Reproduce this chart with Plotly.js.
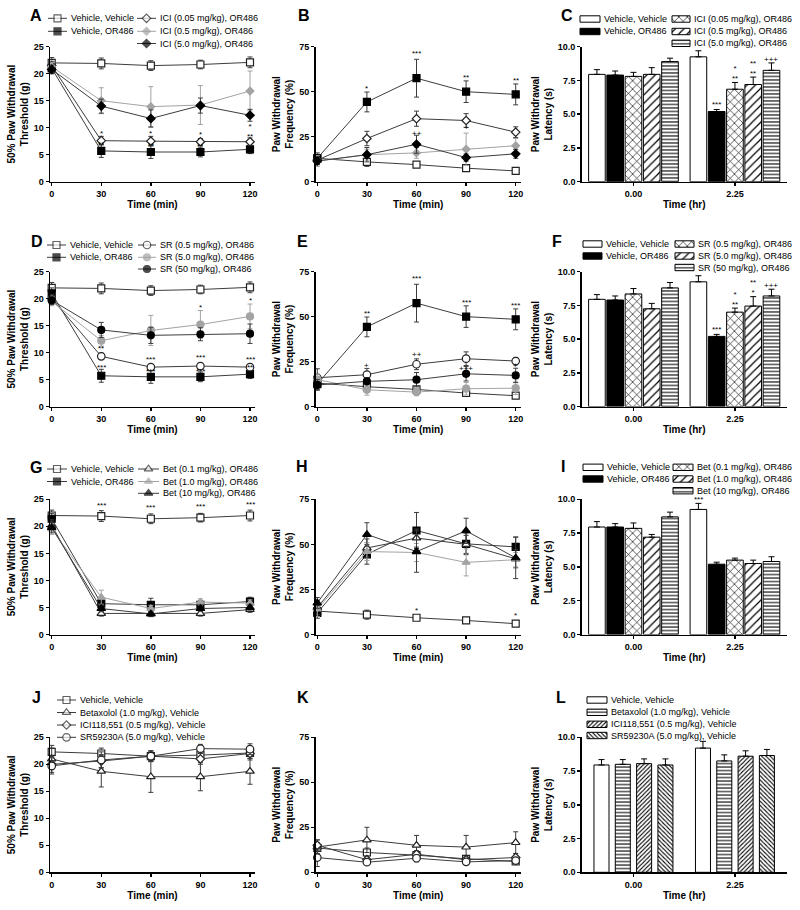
<!DOCTYPE html>
<html><head><meta charset="utf-8">
<script src="https://cdn.plot.ly/plotly-3.0.1.min.js"></script>
<style>html,body{margin:0;padding:0;background:#fff}#chart{width:800px;height:910px}</style>
</head><body><div id="chart"></div>
<script>
// ---------------- DATA ----------------
const timeMin = [0, 30, 60, 90, 120];
const timeHr = ['0.00', '2.25'];

// Panel A / B / C : ICI118,551
const ICI_labels = ['Vehicle, Vehicle', 'Vehicle, OR486', 'ICI (0.05 mg/kg), OR486', 'ICI (0.5 mg/kg), OR486', 'ICI (5.0 mg/kg), OR486'];
const A_mean = [[22.0, 21.9, 21.5, 21.7, 22.1], [21.0, 5.7, 5.5, 5.5, 6.0], [21.5, 7.6, 7.5, 7.4, 7.4], [21.3, 15.0, 13.9, 14.2, 16.8], [20.8, 14.0, 11.7, 14.1, 12.3]];
const A_sem = [[1.0, 1.0, 0.9, 0.8, 1.0], [1.0, 1.2, 1.2, 0.9, 0.8], [0.8, 0.8, 0.9, 0.6, 0.7], [0.8, 2.4, 3.7, 3.6, 3.7], [0.8, 1.3, 1.6, 1.4, 1.1]];
const A_sig = [[30, 9.0, '*'], [30, 6.8, '**'], [60, 8.9, '*'], [60, 6.7, '**'], [90, 8.8, '*'], [90, 6.6, '**'], [120, 9.3, '*<br>**']];
const B_mean = [[13, 11, 9.5, 7.5, 6], [13, 44.3, 57.5, 50, 48.5], [12, 24, 35, 34, 27.5], [11.5, 15, 16, 18, 20], [11.5, 15, 20.8, 13.4, 15.5]];
const B_sem = [[2, 2.5, 1, 1, 0.8], [3, 5.5, 10.5, 6, 5.8], [2.5, 4, 4.2, 3.8, 3], [3, 3, 3, 9, 4], [2, 4, 5, 2, 2.5]];
const B_sig = [[30, 52, '*'], [60, 71, '***'], [90, 58, '**'], [120, 56, '**'], [60, 27, '++'], [90, 30, '+']];
const C_mean = [[7.95, 9.25], [7.9, 5.2], [7.8, 6.85], [7.95, 7.2], [8.9, 8.25]];
const C_sem = [[0.35, 0.45], [0.3, 0.15], [0.3, 0.5], [0.5, 0.55], [0.25, 0.55]];
const C_sig = [[1, 1, 5.7, '***'], [1, 2, 8.0, '*<br>**'], [1, 3, 8.4, '**<br>**'], [1, 4, 9.05, '+++']];

// Panel D / E / F : SR59230A
const SR_labels = ['Vehicle, Vehicle', 'Vehicle, OR486', 'SR (0.5 mg/kg), OR486', 'SR (5.0 mg/kg), OR486', 'SR (50 mg/kg), OR486'];
const D_mean = [[22.0, 21.9, 21.5, 21.7, 22.1], [21.0, 5.7, 5.5, 5.5, 6.0], [20.0, 9.3, 7.3, 7.5, 7.3], [19.5, 12.2, 14.1, 15.2, 16.7], [19.7, 14.2, 13.2, 13.4, 13.5]];
const D_sem = [[1.0, 1.0, 0.9, 0.8, 1.0], [1.0, 1.2, 1.2, 0.9, 0.8], [0.8, 0.6, 0.5, 0.5, 0.5], [0.8, 1.0, 2.8, 2.6, 2.3], [0.8, 1.4, 1.5, 1.2, 1.8]];
const D_sig = [[30, 10.7, '**'], [30, 7.3, '***'], [60, 8.8, '***'], [60, 6.5, '***'], [90, 9.0, '***'], [90, 6.5, '***'], [120, 8.8, '***'], [120, 7.3, '**'], [90, 18.4, '*'], [120, 19.6, '*']];
const E_mean = [[13, 11, 9.5, 7.5, 6], [12.5, 44.3, 57.5, 50, 48.5], [16, 17.7, 23.5, 26.6, 25.3], [15, 9.3, 8, 9.9, 10.2], [12, 14, 14.9, 18.2, 17.3]];
const E_sem = [[2, 2.5, 1, 1, 0.8], [3, 5.5, 10.5, 6, 5.8], [5, 3.5, 3, 3.8, 2], [3, 3, 2, 3.5, 3.5], [3, 2, 4, 4, 4]];
const E_sig = [[30, 52, '**'], [60, 71, '***'], [90, 58, '***'], [120, 56, '***'], [30, 23, '+'], [60, 29, '++'], [90, 21, '+++'], [120, 23, '+']];
const F_mean = [[7.95, 9.25], [7.9, 5.2], [8.35, 7.0], [7.25, 7.45], [8.8, 8.2]];
const F_sem = [[0.35, 0.45], [0.3, 0.15], [0.4, 0.3], [0.4, 0.7], [0.4, 0.5]];
const F_sig = [[1, 1, 5.7, '***'], [1, 2, 7.95, '*<br>**'], [1, 3, 8.8, '**<br>*'], [1, 4, 8.95, '+++']];

// Panel G / H / I : Betaxolol
const BET_labels = ['Vehicle, Vehicle', 'Vehicle, OR486', 'Bet (0.1 mg/kg), OR486', 'Bet (1.0 mg/kg), OR486', 'Bet (10 mg/kg), OR486'];
const G_mean = [[22.0, 21.9, 21.4, 21.6, 22.0], [21.4, 5.7, 5.5, 5.5, 6.1], [20.2, 3.9, 3.9, 3.9, 4.6], [19.5, 6.9, 4.8, 6.0, 5.8], [19.8, 4.8, 3.8, 4.8, 5.0]];
const G_sem = [[1, 1, 0.9, 0.8, 1], [1, 1.1, 1.2, 0.8, 0.8], [1, 0.5, 0.5, 0.5, 0.5], [1, 1.3, 0.6, 0.6, 0.6], [1, 0.6, 0.5, 0.5, 0.5]];
const G_sig = [[30, 23.9, '***'], [60, 23.4, '***'], [90, 23.6, '***'], [120, 24.0, '***']];
const H_mean = [[13, 11, 9.3, 7.8, 6], [12, 44.5, 57.7, 50.3, 48.6], [15, 48, 53.5, 50, 42], [14, 46, 45.5, 40, 41.5], [17.5, 55.5, 46, 57.5, 42.5]];
const H_sem = [[2, 2.5, 1, 1, 0.8], [3, 5.5, 10, 6, 5.5], [4, 5, 5, 5, 5], [4, 5, 5, 7.5, 4], [3, 6.5, 11.5, 7, 11.5]];
const H_sig = [[60, 13.5, '*'], [120, 10.5, '*']];
const I_mean = [[7.95, 9.25], [7.95, 5.2], [7.85, 5.5], [7.2, 5.25], [8.7, 5.4]];
const I_sem = [[0.4, 0.45], [0.25, 0.15], [0.4, 0.15], [0.2, 0.25], [0.35, 0.35]];
const I_sig = [[1, 0, 10.0, '***']];

// Panel J / K / L : drugs alone
const CTRL_labels = ['Vehicle, Vehicle', 'Betaxolol (1.0 mg/kg), Vehicle', 'ICI118,551 (0.5 mg/kg), Vehicle', 'SR59230A (5.0 mg/kg), Vehicle'];
const J_mean = [[22.3, 22.0, 21.5, 21.7, 22.1], [21.0, 18.7, 17.7, 17.7, 18.7], [20.0, 20.6, 21.5, 21.0, 22.0], [19.7, 20.8, 21.5, 22.9, 22.8]];
const J_sem = [[1.2, 1, 0.8, 0.8, 1], [2, 2.9, 2.9, 2.6, 2.4], [1.5, 1.2, 1, 1, 1.2], [1.5, 1.5, 1, 0.8, 1]];
const K_mean = [[13.5, 11, 9.5, 7.5, 6], [14, 18, 15, 14, 16.5], [15, 7, 10, 7, 8.2], [8.2, 5.6, 7.8, 5.8, 6.5]];
const K_sem = [[3, 2.5, 1, 1, 0.8], [4, 7, 5.5, 6.5, 6], [3, 2, 2, 1.5, 2], [5, 1.5, 2, 1, 1.5]];
const L_mean = [[7.95, 9.2], [8.0, 8.25], [8.05, 8.6], [7.95, 8.65]];
const L_sem = [[0.4, 0.5], [0.35, 0.45], [0.35, 0.4], [0.45, 0.45]];

// ---------------- STYLES ----------------
const FONT = 'Liberation Sans, Arial, Helvetica, sans-serif';
const BLK = '#000000', GRY = '#a3a3a3', LN = '#3c3c3c';
const S = {
  sqO: {symbol: 'square', size: 7, fill: '#fff', edge: '#222', line: LN},
  sqF: {symbol: 'square', size: 7, fill: BLK, edge: BLK, line: LN},
  diO: {symbol: 'diamond', size: 6.5, fill: '#fff', edge: '#222', line: LN},
  diG: {symbol: 'diamond', size: 6, fill: GRY, edge: GRY, line: GRY},
  diF: {symbol: 'diamond', size: 6.5, fill: BLK, edge: BLK, line: LN},
  ciO: {symbol: 'circle', size: 7.5, fill: '#fff', edge: '#222', line: LN},
  ciG: {symbol: 'circle', size: 7, fill: GRY, edge: GRY, line: GRY},
  ciF: {symbol: 'circle', size: 7, fill: BLK, edge: BLK, line: LN},
  trO: {symbol: 'triangle-up', size: 7.5, fill: '#fff', edge: '#222', line: LN},
  trG: {symbol: 'triangle-up', size: 7, fill: GRY, edge: GRY, line: GRY},
  trF: {symbol: 'triangle-up', size: 7.5, fill: BLK, edge: BLK, line: LN}
};
const iciSt = [S.sqO, S.sqF, S.diO, S.diG, S.diF];
const srSt = [S.sqO, S.sqF, S.ciO, S.ciG, S.ciF];
const betSt = [S.sqO, S.sqF, S.trO, S.trG, S.trF];
const ctrlSt = [S.sqO, S.trO, S.diO, S.ciO];
const pat = (shape, size, sol) => ({shape: shape, size: size, solidity: sol, fgcolor: '#000', bgcolor: '#fff', fillmode: 'replace'});
const B_plain = {fill: '#fff', pattern: null};
const B_black = {fill: '#000', pattern: null};
const bar5St = [B_plain, B_black, {fill: '#fff', pattern: pat('x', 6, 0.2)}, {fill: '#fff', pattern: pat('/', 6, 0.2)}, {fill: '#fff', pattern: pat('-', 3.5, 0.3)}];
const bar4St = [B_plain, {fill: '#fff', pattern: pat('-', 3.5, 0.3)}, {fill: '#fff', pattern: pat('/', 3, 0.35)}, {fill: '#fff', pattern: pat('\\', 3, 0.35)}];

// ---------------- LAYOUT GEOMETRY (px) ----------------
const W = 800, H = 910;
const rowsPx = [[46.7, 181.7], [271.7, 406.5], [499.3, 634.5], [737.3, 872.3]];
const lineCols = [{d: [50, 255], p0: 51.7, p1: 250}, {d: [315.5, 521], p0: 317.3, p1: 515.7}];
const barCol = {d: [581.7, 786.7], range: [-0.51, 1.51]};

const panels = [
  {id: 'A', kind: 'thr', row: 0, col: 0, labels: ICI_labels, mean: A_mean, sem: A_sem, st: iciSt, sig: A_sig, letter: [35.5, 15.5],
   leg: {cols: [[48, 70], [137, 159]], rows: [18.3, 31.3, 43.5], at: [[0, 0], [0, 1], [1, 0], [1, 1], [1, 2]]}},
  {id: 'B', kind: 'freq', row: 0, col: 1, mean: B_mean, sem: B_sem, st: iciSt, sig: B_sig, letter: [303.5, 15.5]},
  {id: 'C', kind: 'bar', row: 0, col: 2, labels: ICI_labels, mean: C_mean, sem: C_sem, st: bar5St, sig: C_sig, letter: [567, 15.5],
   leg: {cols: [[580, 603], [672, 693]], rows: [19, 31.5, 43.3], at: [[0, 0], [0, 1], [1, 0], [1, 1], [1, 2]]}},
  {id: 'D', kind: 'thr', row: 1, col: 0, labels: SR_labels, mean: D_mean, sem: D_sem, st: srSt, sig: D_sig, letter: [36.5, 242],
   leg: {cols: [[47, 69], [138, 159]], rows: [245, 257.3, 269], at: [[0, 0], [0, 1], [1, 0], [1, 1], [1, 2]]}},
  {id: 'E', kind: 'freq', row: 1, col: 1, mean: E_mean, sem: E_sem, st: srSt, sig: E_sig, letter: [302, 242]},
  {id: 'F', kind: 'bar', row: 1, col: 2, labels: SR_labels, mean: F_mean, sem: F_sem, st: bar5St, sig: F_sig, letter: [557, 242],
   leg: {cols: [[583, 605], [675, 697]], rows: [244, 256, 267.5], at: [[0, 0], [0, 1], [1, 0], [1, 1], [1, 2]]}},
  {id: 'G', kind: 'thr', row: 2, col: 0, labels: BET_labels, mean: G_mean, sem: G_sem, st: betSt, sig: G_sig, letter: [36, 468],
   leg: {cols: [[47, 70], [138, 162]], rows: [469, 481.5, 493.3], at: [[0, 0], [0, 1], [1, 0], [1, 1], [1, 2]]}},
  {id: 'H', kind: 'freq', row: 2, col: 1, mean: H_mean, sem: H_sem, st: betSt, sig: H_sig, letter: [302, 466.7]},
  {id: 'I', kind: 'bar', row: 2, col: 2, labels: BET_labels, mean: I_mean, sem: I_sem, st: bar5St, sig: I_sig, letter: [563, 467],
   leg: {cols: [[583, 606], [673, 696]], rows: [467.3, 479, 490.7], at: [[0, 0], [0, 1], [1, 0], [1, 1], [1, 2]]}},
  {id: 'J', kind: 'thr', row: 3, col: 0, labels: CTRL_labels, mean: J_mean, sem: J_sem, st: ctrlSt, sig: [], letter: [36, 697],
   leg: {cols: [[57, 79]], rows: [700, 712.5, 725, 737.3], at: [[0, 0], [0, 1], [0, 2], [0, 3]]}},
  {id: 'K', kind: 'freq', row: 3, col: 1, mean: K_mean, sem: K_sem, st: ctrlSt, sig: [], letter: [302.5, 697]},
  {id: 'L', kind: 'bar', row: 3, col: 2, labels: CTRL_labels, mean: L_mean, sem: L_sem, st: bar4St, sig: [], letter: [561, 697],
   leg: {cols: [[587, 610]], rows: [700, 712.3, 724.3, 735.5], at: [[0, 0], [0, 1], [0, 2], [0, 3]]}}
];

// ---------------- BUILD ----------------
const traces = [];
const layout = {
  width: W, height: H, autosize: false, margin: {l: 0, r: 0, t: 0, b: 0, pad: 0},
  paper_bgcolor: '#fff', plot_bgcolor: 'rgba(0,0,0,0)', showlegend: false, barmode: 'overlay',
  font: {family: FONT, size: 9, color: '#000'}, annotations: [], hovermode: false
};
const fx = px => px / W;
const fy = py => 1 - py / H;
const baseAxis = {showline: true, linecolor: '#000', linewidth: 1.5, ticks: 'outside', ticklen: 3, tickwidth: 1.5, tickcolor: '#000',
  showgrid: false, zeroline: false, fixedrange: true, tickfont: {family: FONT, size: 9, weight: 700, color: '#000'}};
const titleFont = {family: FONT, size: 10, weight: 700, color: '#000'};
const sigFont = {family: FONT, size: 8, color: '#000'};

function barGeom(n) {
  const step = n === 5 ? 0.18 : 0.21;
  const w = n === 5 ? 0.164 : 0.148;
  return {w: w, c: i => (i - (n - 1) / 2) * step};
}

panels.forEach((p, idx) => {
  const k = idx + 1;
  const xa = 'x' + k, ya = 'y' + k;
  const r = rowsPx[p.row];
  const ydom = [fy(r[1]), fy(r[0])];
  let xaxis, yaxis;
  if (p.kind === 'bar') {
    xaxis = Object.assign({}, baseAxis, {domain: [fx(barCol.d[0]), fx(barCol.d[1])], range: barCol.range,
      tickvals: timeHr.map((_, i) => i), ticktext: timeHr, anchor: ya,
      title: {text: 'Time (hr)', font: titleFont, standoff: 3}});
    yaxis = Object.assign({}, baseAxis, {domain: ydom, range: [0, 10], tickvals: [0, 2.5, 5, 7.5, 10], tickformat: '.1f', anchor: xa,
      title: {text: 'Paw Withdrawal<br>Latency (s)', font: titleFont, standoff: 3}});
    const g = barGeom(p.mean.length);
    p.mean.forEach((m, s) => {
      const st = p.st[s];
      const marker = {color: st.fill, line: {color: '#000', width: 1}};
      if (st.pattern) marker.pattern = st.pattern;
      traces.push({type: 'bar', x: timeHr.map((_, i) => i), y: m, width: g.w, offset: g.c(s) - g.w / 2, marker: marker,
        error_y: {type: 'data', array: p.sem[s], arrayminus: p.sem[s].map(() => 0), symmetric: false, color: '#000', thickness: 1, width: 3},
        xaxis: xa, yaxis: ya, showlegend: false, hoverinfo: 'skip', cliponaxis: false});
    });
    p.sig.forEach(a => layout.annotations.push({xref: xa, yref: ya, x: a[0] + g.c(a[1]), y: a[2], text: a[3], showarrow: false,
      font: sigFont, xanchor: 'center', yanchor: 'middle'}));
  } else {
    const c = lineCols[p.col];
    const s = (c.p1 - c.p0) / 120;
    xaxis = Object.assign({}, baseAxis, {domain: [fx(c.d[0]), fx(c.d[1])], range: [(c.d[0] - c.p0) / s, (c.d[1] - c.p0) / s],
      tickvals: timeMin, anchor: ya, title: {text: 'Time (min)', font: titleFont, standoff: 3}});
    const isThr = p.kind === 'thr';
    yaxis = Object.assign({}, baseAxis, {domain: ydom, range: isThr ? [0, 25] : [0, 75], tickvals: isThr ? [0, 5, 10, 15, 20, 25] : [0, 25, 50, 75],
      anchor: xa, title: {text: isThr ? '50% Paw Withdrawal<br>Threshold (g)' : 'Paw Withdrawal<br>Frequency (%)', font: titleFont, standoff: 3}});
    p.mean.forEach((m, si) => {
      const st = p.st[si];
      traces.push({type: 'scatter', mode: 'lines+markers', x: timeMin, y: m,
        line: {color: st.line, width: 1},
        marker: {symbol: st.symbol, size: st.size, color: st.fill, line: {color: st.edge, width: 1.2}},
        error_y: {type: 'data', array: p.sem[si], symmetric: true, color: st.line, thickness: 1, width: 2.5},
        xaxis: xa, yaxis: ya, showlegend: false, hoverinfo: 'skip', cliponaxis: false});
    });
    p.sig.forEach(a => layout.annotations.push({xref: xa, yref: ya, x: a[0], y: a[1], text: a[2], showarrow: false,
      font: sigFont, xanchor: 'center', yanchor: 'middle'}));
  }
  layout['xaxis' + k] = xaxis;
  layout['yaxis' + k] = yaxis;
  layout.annotations.push({xref: 'paper', yref: 'paper', x: fx(p.letter[0]), y: fy(p.letter[1]), text: p.id, showarrow: false,
    font: {family: FONT, size: 16, weight: 700, color: '#000'}, xanchor: 'center', yanchor: 'middle'});
});

// ---------------- LEGENDS (keys drawn on a hidden pixel overlay axis) ----------------
const OX = 'x13', OY = 'y13';
layout.xaxis13 = {domain: [0, 1], range: [0, W], visible: false, fixedrange: true, anchor: OY};
layout.yaxis13 = {domain: [0, 1], range: [H, 0], visible: false, fixedrange: true, anchor: OX};
panels.forEach(p => {
  if (!p.leg) return;
  p.labels.forEach((lab, i) => {
    const pos = p.leg.at[i];
    const col = p.leg.cols[pos[0]];
    const y = p.leg.rows[pos[1]];
    const st = p.st[i];
    const x0 = col[0], x1 = col[1] - 3;
    if (p.kind === 'bar') {
      const h = 3.2;
      const tr = {type: 'scatter', mode: 'lines', x: [x0, x1, x1, x0, x0], y: [y - h, y - h, y + h, y + h, y - h],
        fill: 'toself', fillcolor: st.fill, line: {color: '#000', width: 1}, xaxis: OX, yaxis: OY, showlegend: false, hoverinfo: 'skip'};
      if (st.pattern) tr.fillpattern = st.pattern;
      traces.push(tr);
    } else {
      const xm = (x0 + x1) / 2;
      traces.push({type: 'scatter', mode: 'lines+markers', x: [x0, xm, x1], y: [y, y, y], line: {color: st.line, width: 1},
        marker: {symbol: st.symbol, size: [0, st.size, 0], color: st.fill, line: {color: st.edge, width: [0, 1.2, 0]}},
        xaxis: OX, yaxis: OY, showlegend: false, hoverinfo: 'skip'});
    }
    layout.annotations.push({xref: 'paper', yref: 'paper', x: fx(col[1]), y: fy(y), text: lab, showarrow: false,
      font: {family: FONT, size: 9, color: '#000'}, xanchor: 'left', yanchor: 'middle', xshift: -1});
  });
});

Plotly.newPlot('chart', traces, layout, {staticPlot: true, displayModeBar: false});
</script>
</body></html>
